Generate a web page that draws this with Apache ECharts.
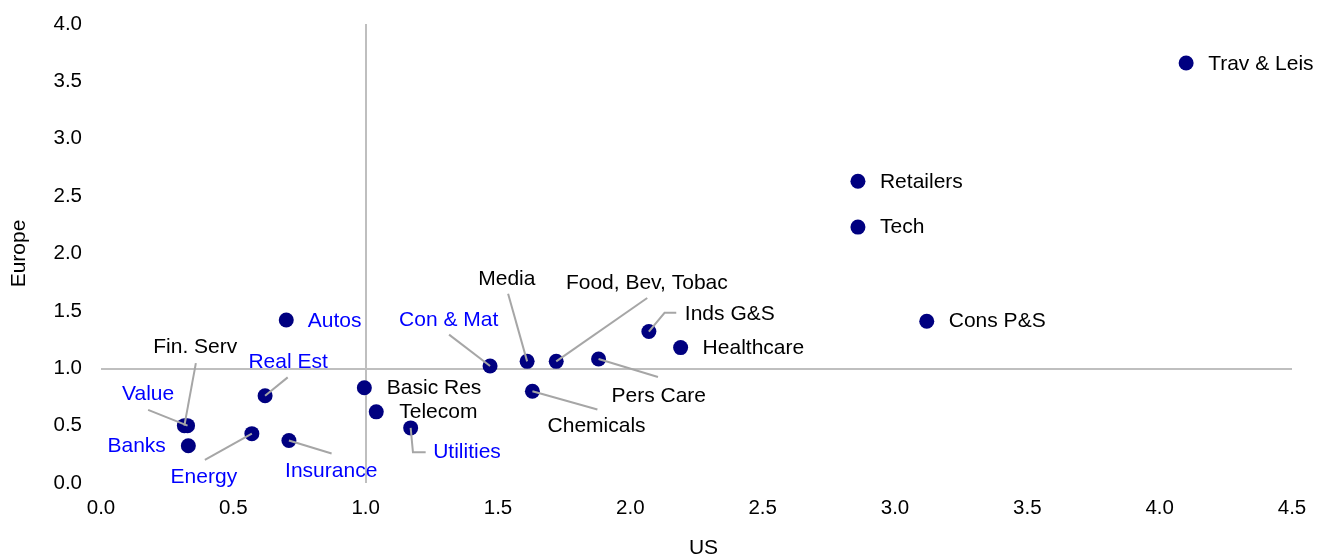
<!DOCTYPE html>
<html>
<head>
<meta charset="utf-8">
<script src="https://cdn.jsdelivr.net/npm/echarts@6/dist/echarts.min.js"></script>
<style>
html,body{margin:0;padding:0;background:#fff;}
#chart{width:1325px;height:556px;}
</style>
</head>
<body>
<div id="chart"></div>
<script>
// ---- data ----
const sectors = ['Trav & Leis','Retailers','Tech','Cons P&S','Healthcare','Inds G&S','Pers Care',
  'Food, Bev, Tobac','Media','Con & Mat','Chemicals','Utilities','Telecom','Basic Res','Autos',
  'Insurance','Real Est','Energy','Fin. Serv','Value','Banks'];
const usValues = [4.10, 2.86, 2.86, 3.12, 2.19, 2.07, 1.88, 1.72, 1.61, 1.47, 1.63, 1.17, 1.04, 0.995, 0.70,
  0.71, 0.62, 0.57, 0.315, 0.327, 0.33];
const europeValues = [3.66, 2.63, 2.23, 1.41, 1.18, 1.32, 1.08, 1.06, 1.06, 1.02, 0.80, 0.48, 0.62, 0.83, 1.42,
  0.37, 0.76, 0.43, 0.50, 0.50, 0.325];
const xTickValues = [0, 0.5, 1, 1.5, 2, 2.5, 3, 3.5, 4, 4.5];
const yTickValues = [0, 0.5, 1, 1.5, 2, 2.5, 3, 3.5, 4];
const refX = 1.0, refY = 1.0;
const blueSectors = ['Autos','Con & Mat','Real Est','Value','Banks','Energy','Insurance','Utilities'];

// ---- label placement (pixel offsets from each marker; styling only) ----
const labelPlace = {
  'Trav & Leis': {dx: 22, dy: 1, align: 'left'},
  'Retailers': {dx: 22, dy: 0.5, align: 'left'},
  'Tech': {dx: 22, dy: 0.5, align: 'left'},
  'Cons P&S': {dx: 22, dy: 0.5, align: 'left'},
  'Healthcare': {dx: 22, dy: 1, align: 'left'},
  'Inds G&S': {dx: 36, dy: -17.5, align: 'left', line: [[15.7, -18.7], [27.4, -18.7]]},
  'Pers Care': {dx: 60.2, dy: 36.8, align: 'center', line: [[59.4, 18]]},
  'Food, Bev, Tobac': {dx: 90.6, dy: -78.4, align: 'center', line: [[91, -63.4]]},
  'Media': {dx: -20.3, dy: -82.5, align: 'center', line: [[-19, -67.7]]},
  'Con & Mat': {dx: -41.4, dy: -45.8, align: 'center', line: [[-41, -31.3]]},
  'Chemicals': {dx: 64.2, dy: 35.5, align: 'center', line: [[65, 18.3]]},
  'Utilities': {dx: 22.5, dy: 24.2, align: 'left', line: [[2.3, 24.4], [15, 24.4]]},
  'Telecom': {dx: 23, dy: 0.7, align: 'left'},
  'Basic Res': {dx: 22.5, dy: 0.6, align: 'left'},
  'Autos': {dx: 21.5, dy: 1, align: 'left'},
  'Insurance': {dx: 42.3, dy: 30.5, align: 'center', line: [[42.7, 13]]},
  'Real Est': {dx: 23, dy: -33.2, align: 'center', line: [[22.6, -18.4]]},
  'Energy': {dx: -48, dy: 43.5, align: 'center', line: [[-47, 26.3]]},
  'Fin. Serv': {dx: 10.9, dy: -78.8, align: 'center', line: [[11.5, -62.5]]},
  'Value': {dx: -39.4, dy: -31.6, align: 'center', line: [[-39.4, -15.8]]},
  'Banks': {dx: -22.5, dy: 0.5, align: 'right'}
};

const FONT = '"Liberation Sans", Arial, sans-serif';
const points = sectors.map((s, i) => [usValues[i], europeValues[i]]);

const chart = echarts.init(document.getElementById('chart'), null, {renderer: 'canvas'});
chart.setOption({
  animation: false,
  backgroundColor: '#ffffff',
  grid: {left: 101, right: 33, top: 24, bottom: 73, containLabel: false, outerBoundsMode: 'none'},
  xAxis: {
    type: 'value', min: 0, max: 4.5, interval: 0.5,
    name: 'US', nameLocation: 'middle', nameGap: 55,
    nameTextStyle: {color: '#000', fontSize: 21, fontFamily: FONT, padding: [0, 0, 0, 14]},
    axisLine: {show: false}, axisTick: {show: false}, splitLine: {show: false},
    axisLabel: {color: '#000', fontSize: 20.5, fontFamily: FONT, margin: 15,
      formatter: v => v.toFixed(1)}
  },
  yAxis: {
    type: 'value', min: 0, max: 4, interval: 0.5,
    name: 'Europe', nameLocation: 'middle', nameGap: 71,
    nameTextStyle: {color: '#000', fontSize: 21, fontFamily: FONT},
    axisLine: {show: false}, axisTick: {show: false}, splitLine: {show: false},
    axisLabel: {color: '#000', fontSize: 20.5, fontFamily: FONT, margin: 19,
      formatter: v => v.toFixed(1)}
  },
  series: [
    {
      type: 'scatter',
      data: points,
      symbol: 'circle',
      symbolSize: 15,
      itemStyle: {color: '#000080', opacity: 1},
      z: 3,
      markLine: {
        silent: true,
        symbol: ['none', 'none'],
        label: {show: false},
        lineStyle: {color: '#bfbfbf', width: 2, type: 'solid'},
        data: [{xAxis: refX}, {yAxis: refY}],
        z: 1
      }
    },
    {
      type: 'custom',
      data: points,
      z: 5,
      silent: true,
      renderItem: function (params, api) {
        const name = sectors[params.dataIndex];
        const p = api.coord([api.value(0), api.value(1)]);
        const L = labelPlace[name];
        const children = [];
        if (L.line) {
          const pts = [[p[0], p[1]]].concat(L.line.map(o => [p[0] + o[0], p[1] + o[1]]));
          children.push({
            type: 'polyline',
            shape: {points: pts},
            style: {stroke: '#a6a6a6', lineWidth: 2, fill: null}
          });
        }
        children.push({
          type: 'text',
          style: {
            text: name,
            x: p[0] + L.dx,
            y: p[1] + L.dy,
            align: L.align,
            verticalAlign: 'middle',
            fill: blueSectors.indexOf(name) >= 0 ? '#0000ff' : '#000000',
            fontSize: 21,
            fontFamily: FONT
          }
        });
        return {type: 'group', children: children};
      }
    }
  ]
});
</script>
</body>
</html>
